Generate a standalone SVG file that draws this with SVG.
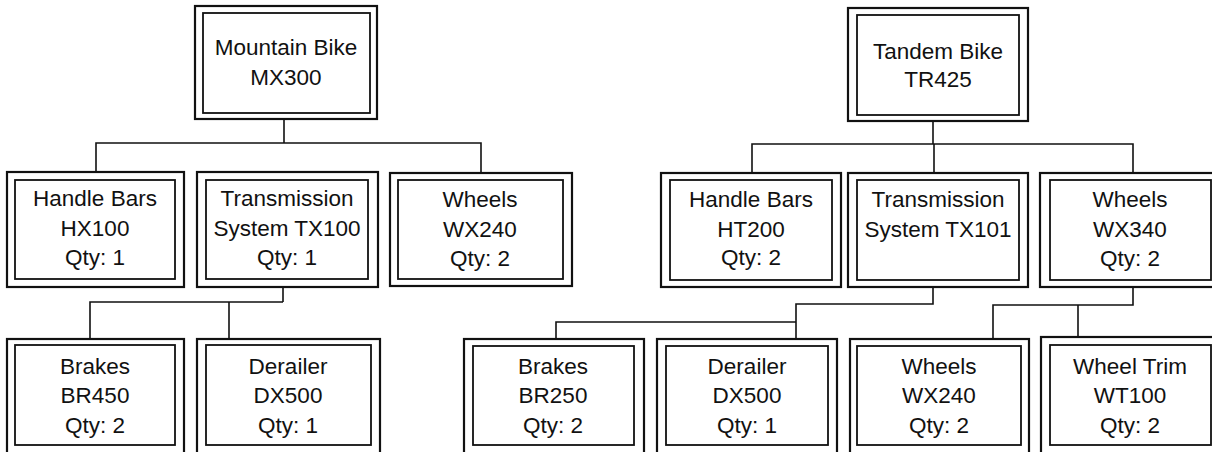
<svg xmlns="http://www.w3.org/2000/svg" width="1212" height="452" viewBox="0 0 1212 452">
<style>
.o{fill:none;stroke:#111;stroke-width:2.2}
.i{fill:none;stroke:#111;stroke-width:1.8}
.c{fill:none;stroke:#111;stroke-width:1.6}
text{font-family:"Liberation Sans",Arial,sans-serif;font-size:22.5px;fill:#111;text-anchor:middle}
</style>
<rect width="1212" height="452" fill="#fff"/>
<g id="connectors">
<path class="c" d="M284,119 V143 M96,172 V143 H481 V173"/>
<path class="c" d="M283,287 V302 M90,339 V302 H283 M229,302 V339"/>
<path class="c" d="M933,121 V144 M752,173 V144 H1133 V173 M934,144 V173"/>
<path class="c" d="M933,287 V304 H796 V339 M796,322 H556 V339"/>
<path class="c" d="M1133,287 V305 H993 V339 M1078,305 V337"/>
</g>
<g id="mx300"><rect class="o" x="195" y="6" width="182" height="113"/><rect class="i" x="203" y="13" width="167" height="100"/><text x="286" y="55">Mountain Bike</text><text x="286" y="85">MX300</text></g>
<g id="hx100"><rect class="o" x="7" y="172" width="177" height="115"/><rect class="i" x="15" y="180" width="160" height="99"/><text x="95" y="206">Handle Bars</text><text x="95" y="236">HX100</text><text x="95" y="265">Qty: 1</text></g>
<g id="tx100"><rect class="o" x="197" y="172" width="181" height="115"/><rect class="i" x="206" y="180" width="162" height="99"/><text x="287" y="206">Transmission</text><text x="287" y="236">System TX100</text><text x="287" y="265">Qty: 1</text></g>
<g id="wx240a"><rect class="o" x="390" y="173" width="182" height="113"/><rect class="i" x="398" y="180" width="165" height="99"/><text x="480" y="207">Wheels</text><text x="480" y="237">WX240</text><text x="480" y="266">Qty: 2</text></g>
<g id="br450"><rect class="o" x="7" y="339" width="177" height="116"/><rect class="i" x="15" y="345" width="160" height="100"/><text x="95" y="374">Brakes</text><text x="95" y="403">BR450</text><text x="95" y="433">Qty: 2</text></g>
<g id="dx500a"><rect class="o" x="197" y="339" width="183" height="116"/><rect class="i" x="206" y="345" width="165" height="100"/><text x="288" y="374">Derailer</text><text x="288" y="403">DX500</text><text x="288" y="433">Qty: 1</text></g>
<g id="tr425"><rect class="o" x="848" y="8" width="180" height="113"/><rect class="i" x="857" y="15" width="162" height="100"/><text x="938" y="59">Tandem Bike</text><text x="938" y="87">TR425</text></g>
<g id="ht200"><rect class="o" x="661" y="173" width="180" height="114"/><rect class="i" x="670" y="180" width="162" height="100"/><text x="751" y="207">Handle Bars</text><text x="751" y="237">HT200</text><text x="751" y="265">Qty: 2</text></g>
<g id="tx101"><rect class="o" x="848" y="173" width="180" height="114"/><rect class="i" x="857" y="180" width="162" height="100"/><text x="938" y="207">Transmission</text><text x="938" y="237">System TX101</text></g>
<g id="wx340"><rect class="o" x="1040" y="173" width="180" height="114"/><rect class="i" x="1050" y="180" width="161" height="100"/><text x="1130" y="207">Wheels</text><text x="1130" y="237">WX340</text><text x="1130" y="266">Qty: 2</text></g>
<g id="br250"><rect class="o" x="464" y="339" width="180" height="116"/><rect class="i" x="473" y="346" width="161" height="99"/><text x="553" y="374">Brakes</text><text x="553" y="403">BR250</text><text x="553" y="433">Qty: 2</text></g>
<g id="dx500b"><rect class="o" x="657" y="339" width="180" height="116"/><rect class="i" x="666" y="346" width="162" height="99"/><text x="747" y="374">Derailer</text><text x="747" y="403">DX500</text><text x="747" y="433">Qty: 1</text></g>
<g id="wx240b"><rect class="o" x="850" y="339" width="179" height="116"/><rect class="i" x="857" y="346" width="164" height="99"/><text x="939" y="374">Wheels</text><text x="939" y="403">WX240</text><text x="939" y="433">Qty: 2</text></g>
<g id="wt100"><rect class="o" x="1041" y="337" width="180" height="118"/><rect class="i" x="1050" y="345" width="161" height="100"/><text x="1130" y="374">Wheel Trim</text><text x="1130" y="403">WT100</text><text x="1130" y="433">Qty: 2</text></g>
</svg>
